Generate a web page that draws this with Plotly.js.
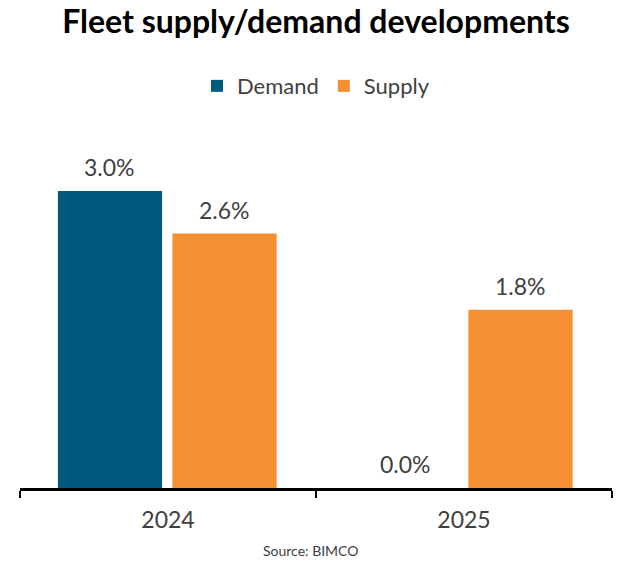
<!DOCTYPE html>
<html>
<head>
<meta charset="utf-8">
<script src="https://cdn.plot.ly/plotly-3.0.1.min.js"></script>
<style>html,body{margin:0;padding:0;background:#fff;}#chart{width:640px;height:581px;}</style>
</head>
<body>
<div id="chart"></div>
<script>
const categories = ["2024", "2025"];
const demand = [3.0, 0.0];
const supply = [2.57, 1.8];
const seriesNames = ["Demand", "Supply"];
const colors = ["#005a7d", "#f68f31"];

const FONT = "Lato, 'Open Sans', sans-serif";
const barWidth = 0.352;
const offsets = [-0.372, 0.015];

const traces = [demand, supply].map((vals, i) => ({
  type: "bar",
  name: seriesNames[i],
  x: categories,
  y: vals,
  width: categories.map(() => barWidth),
  offset: categories.map(() => offsets[i]),
  marker: {color: colors[i], line: {width: 0}},
  hoverinfo: "skip"
}));

const annotations = [];
[demand, supply].forEach((vals, i) => {
  vals.forEach((v, j) => {
    annotations.push({
      x: j + offsets[i] + barWidth / 2,
      y: v,
      xref: "x", yref: "y",
      text: v.toFixed(1) + "%",
      showarrow: false,
      yanchor: "bottom",
      yshift: 8,
      font: {family: FONT, size: 23, color: "#404040"}
    });
  });
});
annotations.push({
  x: 0.49, y: -0.181, xref: "paper", yref: "paper",
  text: "Source: BIMCO", showarrow: false,
  yanchor: "middle",
  font: {family: FONT, size: 14, color: "#404040"}
});

const layout = {
  width: 640, height: 581,
  margin: {l: 20, r: 28, t: 140, b: 93},
  paper_bgcolor: "#ffffff", plot_bgcolor: "#ffffff",
  title: {
    text: "<b>Fleet supply/demand developments</b>",
    x: 0.5, xref: "paper", xanchor: "center",
    y: 0.962, yref: "container", yanchor: "middle",
    font: {family: FONT, size: 32, color: "#000000"}
  },
  showlegend: true,
  legend: {
    orientation: "h", x: 0.5, xanchor: "center", y: 1.155, yanchor: "middle",
    font: {family: FONT, size: 22, color: "#404040"},
    itemclick: false
  },
  xaxis: {
    type: "category",
    range: [-0.5, 1.5],
    showline: true, linecolor: "#000000", linewidth: 2.5,
    ticks: "outside", tickson: "boundaries", ticklen: 7, tickwidth: 2, tickcolor: "#000000",
    ticklabelstandoff: 10,
    tickfont: {family: FONT, size: 23, color: "#404040"},
    showgrid: false, zeroline: false, fixedrange: true
  },
  yaxis: {
    range: [0, 3.515],
    visible: false, showgrid: false, zeroline: false, fixedrange: true
  },
  annotations: annotations
};

Plotly.newPlot("chart", traces, layout, {displayModeBar: false, staticPlot: true});
</script>
</body>
</html>
